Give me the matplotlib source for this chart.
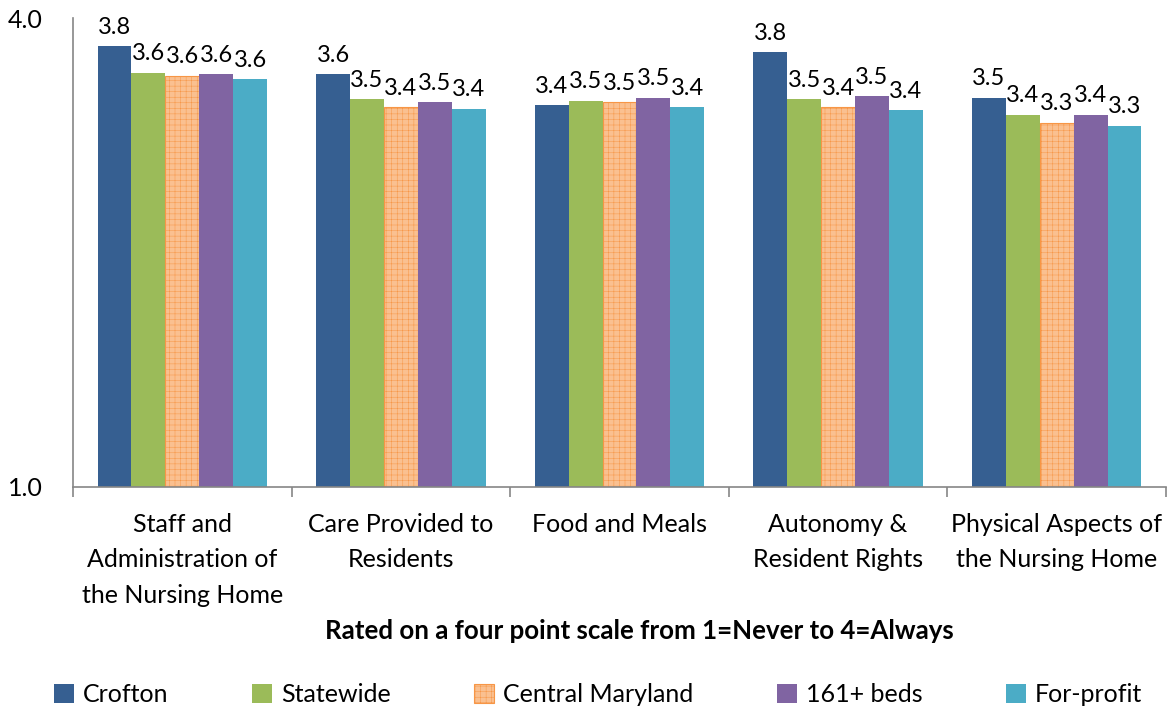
import matplotlib
matplotlib.use("Agg")
import matplotlib.pyplot as plt
from matplotlib.patches import Patch
import numpy as np

# categories and series
categories = [
    "Staff and\nAdministration of\nthe Nursing Home",
    "Care Provided to\nResidents",
    "Food and Meals",
    "Autonomy &\nResident Rights",
    "Physical Aspects of\nthe Nursing Home",
]
series_names = ["Crofton", "Statewide", "Central Maryland", "161+ beds", "For-profit"]
crofton = [3.82, 3.64, 3.44, 3.78, 3.49]
statewide = [3.65, 3.48, 3.47, 3.48, 3.38]
central_md = [3.63, 3.43, 3.46, 3.43, 3.33]
beds_161 = [3.64, 3.46, 3.49, 3.50, 3.38]
for_profit = [3.61, 3.42, 3.43, 3.41, 3.31]
y_ticks = [1.0, 4.0]

series = [crofton, statewide, central_md, beds_161, for_profit]
colors = ["#365F91", "#9BBB59", "#FAC090", "#8064A2", "#4BACC6"]

plt.rcParams["font.family"] = ["Lato", "DejaVu Sans"]
plt.rcParams["hatch.linewidth"] = 0.35
FS = 18

fig = plt.figure(figsize=(11.76, 7.13), dpi=100)
ax = fig.add_axes([73 / 1176, 1 - 486.5 / 713, (1166 - 73) / 1176, (486.5 - 18) / 713])

n = len(series)
bw = 0.155
x = np.arange(len(categories))
for i, (vals, c) in enumerate(zip(series, colors)):
    pos = x + (i - (n - 1) / 2) * bw
    if i == 2:
        ax.bar(pos, np.array(vals) - 1.0, bw, bottom=1.0, color=c,
               edgecolor="#F79646", hatch="+++", linewidth=0.8)
    else:
        ax.bar(pos, np.array(vals) - 1.0, bw, bottom=1.0, color=c,
               edgecolor="none")
    for p, v in zip(pos, vals):
        ax.annotate(f"{v:.1f}", (p, v), xytext=(0, 6), textcoords="offset points",
                    ha="center", va="bottom", fontsize=17)

ax.set_ylim(1.0, 4.0)
ax.set_xlim(-0.5, len(categories) - 0.5)
ax.set_yticks(y_ticks)
ax.set_yticklabels([f"{t:.1f}" for t in y_ticks], fontsize=FS)
ax.tick_params(axis="y", length=0, pad=22)

# category labels between boundary ticks
ax.set_xticks(np.arange(len(categories) + 1) - 0.5)
ax.set_xticklabels([])
ax.tick_params(axis="x", length=7, color="#868686", width=1.2, direction="out")
ax.set_xticks(x, minor=True)
ax.set_xticklabels(categories, minor=True, fontsize=FS, linespacing=1.65)
ax.tick_params(axis="x", which="minor", length=0, pad=19)

for s in ["top", "right"]:
    ax.spines[s].set_visible(False)
for s in ["left", "bottom"]:
    ax.spines[s].set_color("#868686")
    ax.spines[s].set_linewidth(1.2)

fig.text(639 / 1176, 1 - 631 / 713, "Rated on a four point scale from 1=Never to 4=Always",
         ha="center", va="center", fontsize=18.6, fontweight="bold")

handles = []
for name, c in zip(series_names, colors):
    if name == "Central Maryland":
        handles.append(Patch(facecolor=c, edgecolor="#F79646", hatch="+++", linewidth=0.8, label=name))
    else:
        handles.append(Patch(facecolor=c, edgecolor="none", label=name))
fig.legend(handles=handles, loc="center", bbox_to_anchor=(598 / 1176, 1 - 695 / 713),
           ncol=5, frameon=False, fontsize=FS, handlelength=0.8, handleheight=0.8,
           handletextpad=0.35, columnspacing=3.35)

fig.savefig("out.png", dpi=100)
